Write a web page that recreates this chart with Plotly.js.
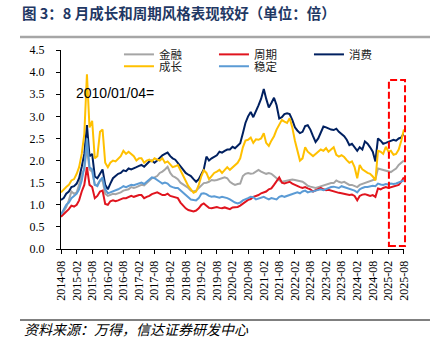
<!DOCTYPE html>
<html>
<head>
<meta charset="utf-8">
<script src="https://cdn.plot.ly/plotly-3.0.1.min.js"></script>
<style>html,body{margin:0;padding:0;background:#fff;}#chart{width:439px;height:352px;}</style>
</head>
<body>
<div id="chart"></div>
<script>
// Monthly samples from 2014-08 to 2025-08
var startYear = 2014, startMonth = 8, nMonths = 133;
var dates = [];
for (var i = 0; i < nMonths; i++) {
  var mm = startMonth - 1 + i;
  var y = startYear + Math.floor(mm / 12);
  var m = (mm % 12) + 1;
  dates.push(y + '-' + (m < 10 ? '0' + m : m) + '-01');
}

var seriesNames = ['金融', '周期', '消费', '成长', '稳定'];

var finance = [
  0.80,0.85,0.95,1.10,1.30,1.25,1.28,1.45,1.70,1.80,
  2.30,1.80,1.75,1.45,1.45,1.55,1.55,1.25,1.20,1.22,
  1.25,1.24,1.26,1.28,1.32,1.33,1.35,1.40,1.38,1.40,
  1.42,1.45,1.44,1.50,1.55,1.60,1.62,1.65,1.72,1.75,
  1.80,1.86,1.72,1.65,1.62,1.58,1.50,1.47,1.42,1.38,
  1.32,1.30,1.32,1.38,1.45,1.49,1.50,1.52,1.56,1.55,
  1.56,1.58,1.60,1.62,1.60,1.52,1.48,1.45,1.47,1.48,
  1.65,1.70,1.72,1.70,1.71,1.75,1.79,1.75,1.72,1.70,
  1.72,1.70,1.65,1.60,1.55,1.52,1.53,1.55,1.55,1.57,
  1.56,1.55,1.53,1.52,1.48,1.43,1.41,1.40,1.38,1.40,
  1.42,1.44,1.45,1.47,1.49,1.49,1.55,1.52,1.50,1.52,
  1.48,1.45,1.45,1.42,1.40,1.45,1.47,1.50,1.52,1.54,
  1.56,1.58,1.82,1.80,1.78,1.77,1.75,1.74,1.78,1.82,
  1.90,1.95,2.00
];

var cyclical = [
  0.73,0.78,0.85,0.90,0.98,0.96,1.00,1.10,1.30,1.45,
  1.85,1.45,1.40,1.15,1.20,1.30,1.32,1.02,1.00,1.08,
  1.10,1.08,1.10,1.12,1.15,1.15,1.18,1.20,1.18,1.20,
  1.22,1.22,1.15,1.18,1.20,1.24,1.26,1.28,1.25,1.22,
  1.22,1.25,1.20,1.18,1.17,1.15,1.05,0.98,0.92,0.88,
  0.86,0.85,0.87,0.92,1.00,1.03,0.98,0.93,0.92,0.94,
  0.95,0.93,0.92,0.94,0.92,0.90,0.94,0.95,0.95,0.98,
  1.03,1.08,1.11,1.13,1.18,1.20,1.22,1.26,1.28,1.30,
  1.35,1.37,1.45,1.55,1.62,1.50,1.48,1.50,1.52,1.48,
  1.45,1.42,1.40,1.38,1.40,1.37,1.35,1.30,1.33,1.35,
  1.38,1.35,1.33,1.34,1.32,1.30,1.28,1.27,1.26,1.25,
  1.24,1.22,1.23,1.20,1.10,1.20,1.23,1.24,1.22,1.20,
  1.22,1.18,1.37,1.35,1.38,1.40,1.38,1.40,1.42,1.43,
  1.45,1.52,1.62
];

var consumption = [
  1.11,1.15,1.25,1.30,1.40,1.42,1.48,1.60,1.86,2.15,
  2.80,2.10,2.15,1.64,1.60,1.70,1.80,1.45,1.35,1.48,
  1.60,1.65,1.70,1.72,1.78,1.76,1.82,1.80,1.82,1.85,
  1.88,1.90,1.86,1.92,1.98,2.00,1.95,2.00,2.07,2.12,
  2.15,2.18,2.10,2.05,2.02,1.95,1.88,1.80,1.72,1.68,
  1.65,1.58,1.52,1.58,1.68,1.80,2.09,2.00,2.05,2.09,
  2.12,2.20,2.18,2.22,2.25,2.25,2.31,2.28,2.33,2.39,
  2.62,2.85,3.00,3.10,2.98,3.10,3.25,3.40,3.62,3.40,
  3.20,3.30,3.42,3.25,2.95,2.98,3.05,3.07,3.05,2.92,
  2.75,2.68,2.62,2.65,2.78,2.80,2.70,2.55,2.42,2.50,
  2.65,2.77,2.75,2.72,2.70,2.69,2.72,2.65,2.60,2.55,
  2.47,2.35,2.38,2.30,2.22,2.30,2.25,2.43,2.38,2.30,
  2.20,1.98,2.50,2.45,2.38,2.40,2.42,2.45,2.47,2.45,
  2.50,2.52,2.62
];

var growth = [
  1.28,1.35,1.40,1.45,1.55,1.58,1.70,1.85,2.15,2.60,
  3.95,2.75,2.90,2.05,2.10,2.65,2.70,1.95,1.85,1.95,
  2.00,1.98,2.05,2.10,2.22,2.15,2.20,2.15,2.10,2.00,
  2.05,2.05,1.95,2.00,2.02,1.98,2.05,2.02,2.00,2.05,
  1.95,1.98,1.92,1.85,1.87,1.90,1.78,1.66,1.55,1.42,
  1.35,1.27,1.30,1.45,1.65,1.78,1.72,1.58,1.65,1.72,
  1.75,1.79,1.72,1.80,1.85,1.79,1.85,1.90,1.95,2.05,
  2.30,2.45,2.47,2.52,2.40,2.48,2.47,2.50,2.62,2.40,
  2.33,2.45,2.55,2.70,2.82,2.92,2.88,2.85,2.96,2.75,
  2.45,2.25,2.00,2.05,2.30,2.20,2.15,2.10,2.15,2.20,
  2.25,2.22,2.28,2.20,2.25,2.30,2.13,2.09,2.12,2.08,
  2.01,1.95,1.98,1.85,1.60,1.90,1.80,1.75,1.72,1.70,
  1.64,1.55,2.22,2.20,2.15,2.31,2.20,2.22,2.13,2.15,
  2.25,2.45,2.70
];

var stable = [
  0.78,0.90,1.00,1.05,1.15,1.20,1.25,1.35,1.55,1.85,
  2.50,1.85,1.80,1.45,1.42,1.55,1.62,1.35,1.26,1.28,
  1.30,1.32,1.35,1.38,1.42,1.40,1.42,1.45,1.44,1.46,
  1.48,1.50,1.47,1.52,1.58,1.62,1.60,1.55,1.52,1.48,
  1.50,1.48,1.42,1.40,1.38,1.38,1.33,1.28,1.22,1.18,
  1.12,1.11,1.10,1.15,1.25,1.26,1.24,1.20,1.18,1.19,
  1.18,1.16,1.18,1.17,1.15,1.12,1.08,1.05,1.03,1.05,
  1.10,1.12,1.15,1.18,1.17,1.12,1.14,1.15,1.18,1.15,
  1.12,1.15,1.14,1.12,1.18,1.20,1.18,1.20,1.22,1.25,
  1.27,1.28,1.26,1.30,1.32,1.28,1.30,1.30,1.32,1.33,
  1.35,1.33,1.36,1.38,1.40,1.41,1.40,1.38,1.42,1.40,
  1.38,1.35,1.33,1.32,1.28,1.35,1.38,1.40,1.40,1.42,
  1.43,1.42,1.48,1.46,1.45,1.47,1.46,1.48,1.47,1.48,
  1.50,1.52,1.55
];

var tickLabels = ['2014-08','2015-02','2015-08','2016-02','2016-08','2017-02','2017-08',
  '2018-02','2018-08','2019-02','2019-08','2020-02','2020-08','2021-02','2021-08',
  '2022-02','2022-08','2023-02','2023-08','2024-02','2024-08','2025-02','2025-08'];

var baseNote = '2010/01/04=';
var titleText = '图 3：8 月成长和周期风格表现较好（单位：倍）';
var sourceText = '资料来源：万得，信达证券研发中心';

var colors = ['#A5A5A5', '#E0141E', '#002060', '#FFC000', '#5B9BD5'];
var values = [finance, cyclical, consumption, growth, stable];
var legendIds = ['legend', 'legend', 'legend', 'legend2', 'legend2'];

var traces = values.map(function (v, k) {
  return {
    type: 'scatter', mode: 'lines', x: dates, y: v, name: seriesNames[k],
    line: {color: colors[k], width: 2}, legend: legendIds[k], hoverinfo: 'skip'
  };
});

var cjk = '"Noto Sans CJK SC", sans-serif';
var serif = '"Liberation Serif", "Times New Roman", serif';

var legendCommon = {
  orientation: 'h', x: 0.169, xanchor: 'left', yanchor: 'middle',
  bgcolor: 'rgba(0,0,0,0)', borderwidth: 0,
  font: {family: cjk, size: 11.5, color: '#222'},
  entrywidth: 50, entrywidthmode: 'pixels', tracegroupgap: 0, itemwidth: 30
};

var layout = {
  width: 439, height: 352,
  margin: {l: 61, r: 35, t: 50, b: 103, pad: 0},
  paper_bgcolor: '#fff', plot_bgcolor: '#fff',
  title: {
    text: titleText, xref: 'container', yref: 'container',
    x: 22 / 439, xanchor: 'left', y: 1 - 14 / 352, yanchor: 'middle',
    font: {family: cjk, size: 14.5, color: '#1F3864', weight: 'bold'}
  },
  showlegend: true,
  legend: Object.assign({}, legendCommon, {y: 0.978}),
  legend2: Object.assign({}, legendCommon, {y: 0.918}),
  xaxis: {
    type: 'date', range: ['2014-08-01', '2025-08-02'],
    tickvals: tickLabels.map(function (s) { return s + '-01'; }),
    ticktext: tickLabels, tickangle: -90,
    ticks: 'outside', ticklen: 4, tickcolor: '#000', tickwidth: 1,
    showline: true, linecolor: '#000', linewidth: 1,
    showgrid: false, zeroline: false, ticklabelstandoff: 2,
    tickfont: {family: serif, size: 12, color: '#000'}
  },
  yaxis: {
    range: [0, 4.5], dtick: 0.5, tick0: 0, tickformat: '.1f',
    ticks: 'outside', ticklen: 4, tickcolor: '#000', tickwidth: 1,
    showline: true, linecolor: '#000', linewidth: 1,
    showgrid: false, zeroline: false, ticklabelstandoff: 9,
    tickfont: {family: serif, size: 12, color: '#000'}
  },
  annotations: [
    {text: baseNote, xref: 'paper', yref: 'paper', x: 0.039, y: 0.784,
     xanchor: 'left', yanchor: 'middle', showarrow: false,
     font: {family: '"Liberation Sans", Arial, sans-serif', size: 14, color: '#000'}},
    {text: sourceText, xref: 'paper', yref: 'paper', x: -0.1137, y: -0.402,
     xanchor: 'left', yanchor: 'middle', showarrow: false,
     font: {family: cjk, size: 14, color: '#000', style: 'italic'}}
  ],
  shapes: [
    {type: 'line', xref: 'paper', yref: 'paper', x0: -0.1195, x1: 1.0758, y0: 1.0653, y1: 1.0653,
     line: {color: '#A6A6A6', width: 2.5}},
    {type: 'line', xref: 'paper', yref: 'paper', x0: -0.1195, x1: 1.0758, y0: -0.3568, y1: -0.3568,
     line: {color: '#000', width: 1}},
    {type: 'rect', xref: 'paper', yref: 'paper', x0: 0.956, x1: 1.003, y0: 0.015, y1: 0.849,
     line: {color: '#FF0000', width: 2, dash: '7px,3px'}, fillcolor: 'rgba(0,0,0,0)'}
  ]
};

Plotly.newPlot('chart', traces, layout, {staticPlot: true, displayModeBar: false});
</script>
</body>
</html>
